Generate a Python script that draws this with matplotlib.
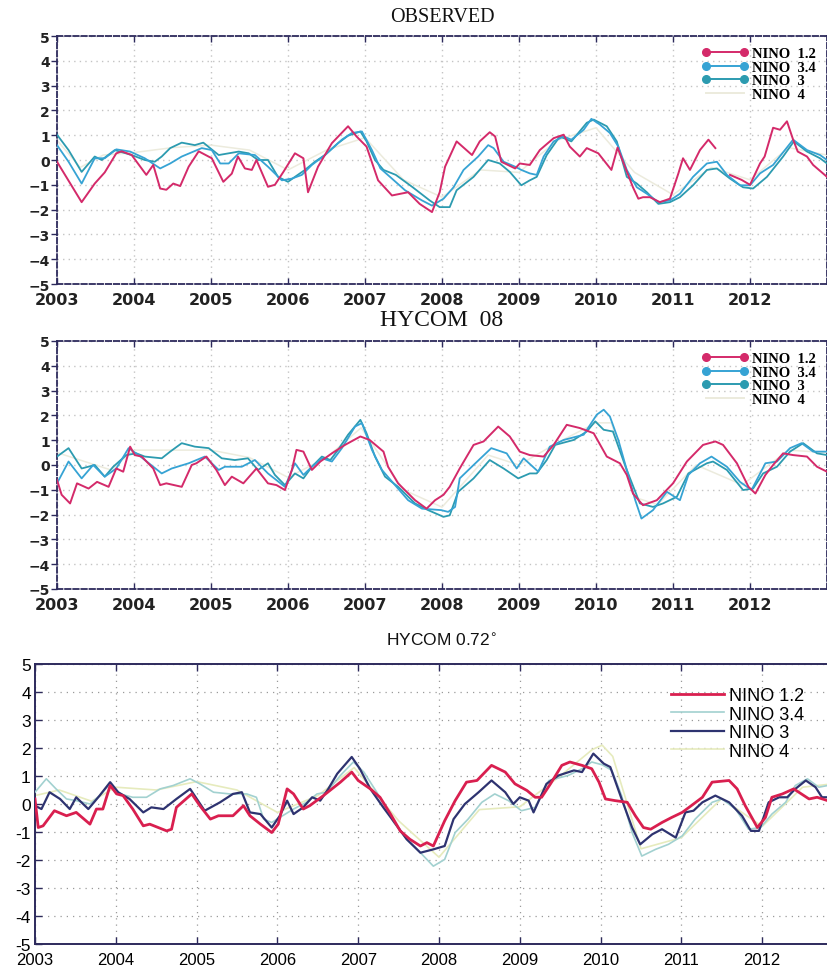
import numpy as np
import matplotlib
matplotlib.use("Agg")
import matplotlib.pyplot as plt
from matplotlib.lines import Line2D

nan = np.nan

# =========================
# DATA  (year, anomaly)
# =========================
years = [2003, 2004, 2005, 2006, 2007, 2008, 2009, 2010, 2011, 2012]
yticks = [-5, -4, -3, -2, -1, 0, 1, 2, 3, 4, 5]
series_names = ["NINO 1.2", "NINO 3.4", "NINO 3", "NINO 4"]

# --- OBSERVED ---
obs_n12 = [(2003.00, -0.07), (2003.32, -1.7), (2003.49, -0.95), (2003.62, -0.5), (2003.77, 0.27),
           (2003.84, 0.35), (2003.97, 0.2), (2004.16, -0.6), (2004.25, -0.2), (2004.34, -1.15),
           (2004.42, -1.2), (2004.51, -0.95), (2004.60, -1.05), (2004.71, -0.27), (2004.84, 0.35),
           (2005.01, 0.07), (2005.16, -0.88), (2005.27, -0.55), (2005.35, 0.14), (2005.44, -0.34),
           (2005.53, -0.4), (2005.59, 0.0), (2005.74, -1.08), (2005.83, -1.0), (2005.94, -0.48),
           (2006.09, 0.27), (2006.20, 0.07), (2006.26, -1.3), (2006.39, -0.27), (2006.57, 0.68),
           (2006.78, 1.36), (2006.89, 0.95), (2007.02, 0.54), (2007.17, -0.82), (2007.35, -1.43),
           (2007.56, -1.3), (2007.71, -1.77), (2007.87, -2.1), (2007.97, -1.3), (2008.04, -0.27),
           (2008.19, 0.75), (2008.39, 0.2), (2008.49, 0.75), (2008.62, 1.12), (2008.69, 0.95),
           (2008.77, -0.07), (2008.95, -0.34), (2009.01, -0.14), (2009.14, -0.2), (2009.27, 0.4),
           (2009.45, 0.88), (2009.58, 1.02), (2009.66, 0.54), (2009.79, 0.14), (2009.88, 0.48),
           (2010.03, 0.27), (2010.20, -0.4), (2010.28, 0.5), (2010.48, -1.1), (2010.55, -1.56),
           (2010.61, -1.5), (2010.70, -1.5), (2010.83, -1.7), (2010.96, -1.56), (2011.07, -0.54),
           (2011.13, 0.07), (2011.22, -0.4), (2011.35, 0.4), (2011.46, 0.82), (2011.55, 0.48),
           (2011.64, nan), (2011.74, -0.6), (2011.89, -0.8), (2012.00, -1.0), (2012.13, -0.14),
           (2012.19, 0.14), (2012.30, 1.3), (2012.39, 1.22), (2012.48, 1.56), (2012.56, 0.82),
           (2012.62, 0.34), (2012.74, 0.14), (2012.82, -0.2), (2013.00, -0.68)]
obs_n34 = [(2003.00, 0.6), (2003.15, -0.07), (2003.32, -0.95), (2003.49, 0.07), (2003.62, 0.07),
           (2003.77, 0.43), (2003.95, 0.34), (2004.14, 0.07), (2004.34, -0.34), (2004.47, -0.14),
           (2004.62, 0.14), (2004.88, 0.48), (2005.01, 0.4), (2005.12, -0.14), (2005.23, -0.14),
           (2005.36, 0.27), (2005.57, 0.2), (2005.74, -0.27), (2005.92, -0.82), (2006.05, -0.75),
           (2006.18, -0.6), (2006.31, -0.2), (2006.48, 0.2), (2006.70, 0.82), (2006.83, 1.09),
           (2006.96, 1.15), (2007.09, 0.4), (2007.20, -0.34), (2007.35, -0.75), (2007.52, -1.22),
           (2007.74, -1.63), (2007.87, -1.84), (2008.02, -1.56), (2008.15, -1.1), (2008.28, -0.4),
           (2008.47, 0.14), (2008.60, 0.6), (2008.67, 0.48), (2008.80, -0.07), (2008.95, -0.27),
           (2009.03, -0.4), (2009.14, -0.54), (2009.23, -0.6), (2009.32, 0.14), (2009.45, 0.75),
           (2009.58, 0.95), (2009.68, 0.82), (2009.84, 1.22), (2009.94, 1.66), (2010.05, 1.43),
           (2010.18, 1.09), (2010.29, 0.54), (2010.40, -0.4), (2010.53, -1.1), (2010.66, -1.36),
           (2010.81, -1.7), (2010.96, -1.63), (2011.09, -1.36), (2011.26, -0.68), (2011.44, -0.14),
           (2011.57, -0.07), (2011.70, -0.6), (2011.87, -1.02), (2012.00, -1.02), (2012.13, -0.54),
           (2012.30, -0.2), (2012.56, 0.82), (2012.74, 0.4), (2012.91, 0.2), (2013.00, 0.0)]
obs_n3 = [(2003.00, 1.02), (2003.15, 0.4), (2003.32, -0.48), (2003.49, 0.14), (2003.58, 0.0),
          (2003.75, 0.4), (2003.97, 0.2), (2004.14, 0.0), (2004.27, -0.07), (2004.36, 0.14),
          (2004.47, 0.48), (2004.62, 0.7), (2004.79, 0.6), (2004.90, 0.7), (2005.10, 0.2),
          (2005.23, 0.27), (2005.36, 0.34), (2005.49, 0.27), (2005.61, 0.0), (2005.74, 0.0),
          (2005.87, -0.68), (2006.00, -0.88), (2006.09, -0.68), (2006.22, -0.4), (2006.35, -0.07),
          (2006.48, 0.2), (2006.65, 0.68), (2006.78, 0.98), (2006.94, 1.15), (2007.02, 0.75),
          (2007.13, 0.0), (2007.24, -0.4), (2007.40, -0.6), (2007.62, -1.1), (2007.84, -1.63),
          (2007.97, -1.9), (2008.10, -1.9), (2008.19, -1.22), (2008.41, -0.68), (2008.60, 0.0),
          (2008.75, -0.14), (2008.88, -0.48), (2009.03, -1.02), (2009.14, -0.82), (2009.23, -0.68),
          (2009.36, 0.2), (2009.53, 0.95), (2009.68, 0.75), (2009.88, 1.5), (2009.97, 1.63),
          (2010.14, 1.36), (2010.27, 0.75), (2010.40, -0.68), (2010.53, -0.95), (2010.66, -1.3),
          (2010.81, -1.77), (2010.96, -1.7), (2011.09, -1.5), (2011.26, -1.02), (2011.44, -0.4),
          (2011.57, -0.34), (2011.74, -0.75), (2011.91, -1.1), (2012.04, -1.15), (2012.22, -0.68),
          (2012.43, 0.14), (2012.57, 0.75), (2012.74, 0.34), (2012.91, 0.07), (2013.00, -0.14)]
obs_n4 = [(2003.0, 0.8), (2003.3, -0.3), (2003.6, 0.2), (2004.0, 0.3), (2004.5, 0.5), (2005.0, 0.6),
          (2005.5, 0.4), (2006.0, -0.4), (2006.5, 0.4), (2007.0, 0.9), (2007.5, -0.8), (2008.0, -1.5),
          (2008.5, -0.4), (2009.0, -0.5), (2009.5, 0.8), (2010.0, 1.3), (2010.5, -0.5), (2011.0, -1.4),
          (2011.5, -0.3), (2012.0, -0.8), (2012.5, 0.5), (2013.0, 0.2)]

# --- HYCOM 08 ---
h08_n12 = [(2003.00, -0.6), (2003.06, -1.2), (2003.17, -1.55), (2003.26, -0.74), (2003.41, -0.95),
           (2003.52, -0.68), (2003.67, -0.88), (2003.77, -0.14), (2003.86, -0.27), (2003.95, 0.74),
           (2004.01, 0.4), (2004.10, 0.34), (2004.25, -0.14), (2004.34, -0.81), (2004.42, -0.74),
           (2004.62, -0.88), (2004.75, 0.0), (2004.81, 0.07), (2004.94, 0.34), (2005.07, -0.2),
           (2005.18, -0.81), (2005.27, -0.47), (2005.42, -0.74), (2005.59, -0.14), (2005.74, -0.74),
           (2005.85, -0.81), (2005.96, -1.01), (2006.05, -0.2), (2006.11, 0.61), (2006.20, 0.54),
           (2006.31, -0.2), (2006.42, 0.14), (2006.57, 0.47), (2006.74, 0.81), (2006.94, 1.15),
           (2007.06, 1.01), (2007.24, 0.54), (2007.30, -0.07), (2007.43, -0.74), (2007.65, -1.42),
           (2007.80, -1.76), (2007.91, -1.42), (2008.02, -1.2), (2008.10, -0.88), (2008.23, -0.14),
           (2008.41, 0.81), (2008.54, 0.95), (2008.73, 1.55), (2008.88, 1.15), (2009.01, 0.54),
           (2009.14, 0.4), (2009.32, 0.34), (2009.45, 0.81), (2009.62, 1.62), (2009.79, 1.49),
           (2009.97, 1.28), (2010.14, 0.34), (2010.31, 0.07), (2010.40, -0.4), (2010.48, -1.15),
           (2010.61, -1.62), (2010.79, -1.42), (2011.00, -0.74), (2011.18, 0.14), (2011.39, 0.81),
           (2011.55, 0.95), (2011.65, 0.81), (2011.83, 0.07), (2011.98, -0.88), (2012.07, -1.15),
           (2012.20, -0.4), (2012.30, 0.0), (2012.43, 0.47), (2012.56, 0.4), (2012.74, 0.34),
           (2012.87, -0.07), (2013.00, -0.27)]
h08_n34 = [(2003.00, -0.74), (2003.15, 0.14), (2003.32, -0.54), (2003.47, 0.0), (2003.62, -0.47),
           (2003.77, -0.14), (2003.93, 0.68), (2004.06, 0.4), (2004.25, -0.07), (2004.36, -0.34),
           (2004.49, -0.14), (2004.71, 0.07), (2004.92, 0.34), (2005.10, -0.2), (2005.18, -0.07),
           (2005.40, -0.07), (2005.57, 0.2), (2005.74, -0.34), (2005.96, -0.88), (2006.09, 0.07),
           (2006.20, -0.4), (2006.31, -0.07), (2006.44, 0.27), (2006.57, 0.14), (2006.70, 0.68),
           (2006.87, 1.55), (2006.96, 1.69), (2007.09, 0.61), (2007.22, -0.2), (2007.39, -0.81),
           (2007.56, -1.42), (2007.74, -1.76), (2007.99, -1.82), (2008.08, -1.89), (2008.17, -1.69),
           (2008.23, -0.54), (2008.41, 0.0), (2008.64, 0.68), (2008.84, 0.47), (2008.97, -0.14),
           (2009.06, 0.27), (2009.25, -0.27), (2009.40, 0.74), (2009.58, 1.01), (2009.84, 1.22),
           (2010.01, 2.03), (2010.10, 2.23), (2010.18, 1.96), (2010.29, 1.01), (2010.40, -0.2),
           (2010.51, -1.42), (2010.59, -2.16), (2010.74, -1.82), (2010.92, -1.08), (2011.09, -1.42),
           (2011.20, -0.4), (2011.35, 0.07), (2011.50, 0.34), (2011.70, -0.07), (2011.87, -0.68),
           (2012.02, -1.01), (2012.20, 0.07), (2012.35, 0.14), (2012.52, 0.68), (2012.67, 0.88),
           (2012.82, 0.54), (2013.00, 0.54)]
h08_n3 = [(2003.00, 0.34), (2003.15, 0.68), (2003.32, -0.14), (2003.49, 0.0), (2003.62, -0.47),
          (2003.73, -0.07), (2003.90, 0.4), (2004.03, 0.47), (2004.14, 0.34), (2004.36, 0.27),
          (2004.47, 0.54), (2004.62, 0.88), (2004.79, 0.74), (2004.97, 0.68), (2005.14, 0.27),
          (2005.31, 0.2), (2005.48, 0.27), (2005.61, -0.2), (2005.74, 0.07), (2005.83, -0.4),
          (2005.96, -0.81), (2006.09, -0.34), (2006.20, -0.54), (2006.31, -0.07), (2006.44, 0.34),
          (2006.55, 0.2), (2006.65, 0.61), (2006.78, 1.22), (2006.94, 1.82), (2007.02, 1.28),
          (2007.13, 0.34), (2007.26, -0.47), (2007.43, -0.88), (2007.65, -1.55), (2007.82, -1.82),
          (2008.02, -2.09), (2008.10, -2.03), (2008.21, -1.08), (2008.41, -0.54), (2008.62, 0.2),
          (2008.80, -0.14), (2008.99, -0.54), (2009.14, -0.34), (2009.23, -0.34), (2009.36, 0.2),
          (2009.47, 0.81), (2009.71, 1.01), (2009.88, 1.35), (2009.99, 1.76), (2010.10, 1.42),
          (2010.22, 1.35), (2010.40, -0.2), (2010.57, -1.55), (2010.74, -1.69), (2010.87, -1.55),
          (2011.05, -1.28), (2011.20, -0.34), (2011.44, 0.07), (2011.52, 0.14), (2011.70, -0.2),
          (2011.91, -1.01), (2012.04, -0.95), (2012.17, -0.34), (2012.35, -0.07), (2012.52, 0.54),
          (2012.69, 0.88), (2012.87, 0.47), (2013.00, 0.4)]
h08_n4 = [(2003.0, 0.5), (2003.3, 0.2), (2003.7, -0.2), (2004.0, 0.6), (2004.5, 0.6), (2005.0, 0.6),
          (2005.5, 0.3), (2006.0, -0.5), (2006.5, 0.3), (2006.95, 1.5), (2007.5, -1.0), (2008.0, -1.7),
          (2008.6, 0.4), (2009.0, 0.0), (2009.5, 0.9), (2010.0, 1.7), (2010.2, 1.7), (2010.5, -1.3),
          (2010.8, -1.6), (2011.3, 0.0), (2011.9, -0.8), (2012.5, 0.6), (2013.0, 0.5)]

# --- HYCOM 0.72 ---
h72_n12 = [(2003.00, 0.18), (2003.04, -0.84), (2003.10, -0.78), (2003.24, -0.24), (2003.39, -0.42),
           (2003.51, -0.3), (2003.68, -0.72), (2003.76, -0.18), (2003.84, -0.18), (2003.93, 0.66),
           (2004.01, 0.36), (2004.09, 0.3), (2004.21, -0.18), (2004.34, -0.78), (2004.42, -0.72),
           (2004.63, -0.96), (2004.69, -0.9), (2004.75, -0.12), (2004.94, 0.36), (2005.04, -0.06),
           (2005.17, -0.54), (2005.27, -0.42), (2005.45, -0.42), (2005.58, -0.06), (2005.66, -0.42),
           (2005.79, -0.72), (2005.93, -1.02), (2006.01, -0.72), (2006.12, 0.54), (2006.20, 0.36),
           (2006.32, -0.18), (2006.40, -0.06), (2006.57, 0.3), (2006.78, 0.78), (2006.92, 1.14),
           (2007.00, 0.84), (2007.15, 0.54), (2007.27, 0.24), (2007.40, -0.36), (2007.52, -0.96),
           (2007.64, -1.26), (2007.77, -1.5), (2007.85, -1.38), (2007.93, -1.5), (2008.07, -0.6),
           (2008.20, 0.12), (2008.34, 0.78), (2008.47, 0.84), (2008.65, 1.38), (2008.82, 1.14),
           (2008.94, 0.72), (2009.09, 0.48), (2009.19, 0.24), (2009.27, 0.24), (2009.38, 0.72),
           (2009.52, 1.38), (2009.62, 1.5), (2009.77, 1.38), (2009.89, 1.26), (2009.98, 0.78),
           (2010.06, 0.18), (2010.18, 0.12), (2010.33, 0.06), (2010.43, -0.42), (2010.53, -0.84),
           (2010.62, -0.9), (2010.76, -0.66), (2010.88, -0.48), (2011.01, -0.3), (2011.15, 0.0),
           (2011.26, 0.24), (2011.38, 0.78), (2011.59, 0.84), (2011.69, 0.54), (2011.79, -0.06),
           (2011.94, -0.84), (2012.04, -0.48), (2012.12, 0.24), (2012.25, 0.36), (2012.39, 0.54),
           (2012.58, 0.18), (2012.68, 0.24), (2012.81, 0.12), (2013.00, 0.1)]
h72_n34 = [(2003.00, 0.42), (2003.14, 0.9), (2003.26, 0.54), (2003.39, 0.18), (2003.51, 0.12),
           (2003.68, 0.0), (2003.80, 0.3), (2003.93, 0.72), (2004.05, 0.36), (2004.21, 0.24),
           (2004.38, 0.24), (2004.55, 0.54), (2004.71, 0.66), (2004.92, 0.9), (2005.04, 0.72),
           (2005.21, 0.42), (2005.41, 0.36), (2005.62, 0.36), (2005.74, 0.24), (2005.83, -0.54),
           (2005.93, -0.66), (2006.03, -0.48), (2006.20, -0.18), (2006.36, 0.06), (2006.49, 0.36),
           (2006.61, 0.42), (2006.78, 1.02), (2006.94, 1.5), (2007.07, 1.14), (2007.23, 0.42),
           (2007.44, -0.66), (2007.60, -1.26), (2007.77, -1.74), (2007.93, -2.22), (2008.07, -1.98),
           (2008.20, -1.02), (2008.36, -0.54), (2008.53, 0.06), (2008.69, 0.36), (2008.86, 0.12),
           (2009.02, -0.24), (2009.19, -0.12), (2009.36, 0.84), (2009.60, 1.02), (2009.77, 1.26),
           (2009.89, 1.5), (2010.02, 1.4), (2010.14, 1.2), (2010.26, 0.3), (2010.39, -1.02),
           (2010.51, -1.86), (2010.68, -1.62), (2010.84, -1.44), (2011.01, -1.14), (2011.17, -0.54),
           (2011.38, 0.06), (2011.50, 0.18), (2011.67, -0.18), (2011.83, -0.9), (2011.98, -0.84),
           (2012.12, -0.36), (2012.29, 0.06), (2012.41, 0.66), (2012.56, 0.9), (2012.70, 0.6),
           (2012.81, 0.66), (2013.00, 0.6)]
h72_n3 = [(2003.00, -0.06), (2003.08, -0.18), (2003.18, 0.42), (2003.31, 0.18), (2003.43, -0.18),
          (2003.51, 0.24), (2003.66, -0.18), (2003.80, 0.3), (2003.93, 0.78), (2004.03, 0.42),
          (2004.17, 0.18), (2004.34, -0.3), (2004.44, -0.12), (2004.59, -0.18), (2004.75, 0.18),
          (2004.92, 0.54), (2005.10, -0.24), (2005.29, 0.06), (2005.45, 0.36), (2005.56, 0.42),
          (2005.66, -0.3), (2005.79, -0.36), (2005.93, -0.84), (2006.03, -0.42), (2006.12, 0.12),
          (2006.20, -0.36), (2006.32, -0.12), (2006.43, 0.24), (2006.53, 0.12), (2006.63, 0.54),
          (2006.74, 1.08), (2006.92, 1.68), (2007.02, 1.26), (2007.15, 0.54), (2007.31, -0.12),
          (2007.48, -0.78), (2007.60, -1.26), (2007.77, -1.74), (2007.93, -1.62), (2008.07, -1.5),
          (2008.18, -0.54), (2008.32, 0.0), (2008.49, 0.42), (2008.65, 0.84), (2008.82, 0.42),
          (2008.92, 0.0), (2009.00, 0.24), (2009.11, 0.12), (2009.17, -0.3), (2009.33, 0.72),
          (2009.48, 1.02), (2009.67, 1.2), (2009.77, 1.14), (2009.91, 1.8), (2010.04, 1.44),
          (2010.12, 1.32), (2010.26, 0.18), (2010.39, -0.84), (2010.49, -1.44), (2010.64, -1.08),
          (2010.76, -0.9), (2010.93, -1.2), (2011.05, -0.3), (2011.15, -0.24), (2011.26, 0.06),
          (2011.42, 0.3), (2011.59, 0.06), (2011.75, -0.42), (2011.86, -0.96), (2011.96, -0.96),
          (2012.08, 0.06), (2012.21, 0.24), (2012.31, 0.24), (2012.41, 0.54), (2012.54, 0.84),
          (2012.66, 0.6), (2012.74, 0.24), (2012.81, 0.24), (2013.00, 0.2)]
h72_n4 = [(2003.0, 0.3), (2003.3, 0.5), (2003.7, 0.1), (2004.0, 0.6), (2004.5, 0.5), (2005.0, 0.8),
          (2005.5, 0.5), (2006.0, -0.3), (2006.5, 0.3), (2006.95, 1.3), (2007.5, -0.6), (2008.0, -1.9),
          (2008.5, -0.2), (2009.0, -0.1), (2009.5, 1.0), (2009.9, 1.95), (2010.02, 2.1), (2010.15, 1.7),
          (2010.5, -1.6), (2011.0, -1.2), (2011.5, 0.2), (2012.0, -0.8), (2012.5, 0.6), (2012.81, 0.7),
          (2013.0, 0.6)]

# =========================
# CORES
# =========================
grads_cols = ["#d42a6a", "#36a3d4", "#2c9bb0", "#ecebdd"]
matlab_cols = ["#d91f4f", "#a2d1d0", "#2e3370", "#e6ebbd"]
frame_col = "#2d2a5c"

W, H = 827, 970
fig = plt.figure(figsize=(W / 100, H / 100), dpi=100)


def fx(px):
    return px / W


def fy(py):
    return 1 - py / H


def curva(ax, pares, cor, lw, z):
    t = [p[0] for p in pares]
    v = [p[1] for p in pares]
    ax.plot(t, v, color=cor, lw=lw, zorder=z, solid_joinstyle="round")


# =========================
# PAINEIS ESTILO GrADS
# =========================
def painel_grads(top_px, bot_px, dados, titulo, title_y, title_size):
    ax = fig.add_axes([fx(57), fy(bot_px), fx(770), (bot_px - top_px) / H])
    for d, c, lw, z in zip(dados, grads_cols, [1.4, 1.3, 1.3, 1.1], [5, 4, 3, 2]):
        curva(ax, d, c, lw, z)
    ax.set_xlim(2003, 2013)
    ax.set_ylim(-5, 5)
    ax.set_xticks(years)
    ax.set_yticks(yticks)
    ax.set_xticklabels([str(y) for y in years], fontsize=11.5, fontweight="bold",
                       family="DejaVu Sans", color="#222222")
    ax.set_yticklabels([str(y).replace("-", "\u2212") for y in yticks], fontsize=10,
                       fontweight="bold", family="DejaVu Sans", color="#222222")
    ax.tick_params(axis="x", direction="in", length=4, width=1, color=frame_col, pad=6, top=True)
    ax.tick_params(axis="y", direction="out", length=4, width=1, color=frame_col, pad=1)
    ax.grid(True, color="#c4c4c4", linestyle=(0, (1, 3)), lw=1.0)
    for s in ax.spines.values():
        s.set_linestyle((0, (3, 1.5)))
        s.set_color(frame_col)
        s.set_linewidth(1.3)
    handles = []
    for c, lab in zip(grads_cols, series_names):
        mk = "o" if lab != "NINO 4" else None
        handles.append(Line2D([], [], color=c, lw=1.4, marker=mk, markersize=5.5))
    labels = ["NINO  1.2", "NINO  3.4", "NINO  3", "NINO  4"]
    ax.legend(handles, labels, loc="upper right", bbox_to_anchor=(1.0, 1.0), frameon=False,
              numpoints=2, handlelength=3.2, handletextpad=0.25, labelspacing=0.02,
              borderaxespad=0.35, prop={"family": "Liberation Serif", "weight": "bold", "size": 10.5})
    fig.text(fx(442), fy(title_y), titulo, ha="center", va="center",
             family="Liberation Serif", fontsize=title_size, color="#111111")
    return ax


painel_grads(37, 285, [obs_n12, obs_n34, obs_n3, obs_n4], "OBSERVED", 17, 14.5)
painel_grads(342, 590, [h08_n12, h08_n34, h08_n3, h08_n4], "HYCOM  08", 321, 17)

# =========================
# PAINEL ESTILO MATLAB
# =========================
ax3 = fig.add_axes([fx(35), fy(945), fx(808), 280 / H])
dados3 = [h72_n12, h72_n34, h72_n3, h72_n4]
for d, c, lw, z in zip(dados3, matlab_cols, [2.0, 1.2, 1.6, 1.2], [5, 3, 4, 2]):
    curva(ax3, d, c, lw, z)
ax3.set_xlim(2003, 2013)
ax3.set_ylim(-5, 5)
ax3.set_xticks(years)
ax3.set_yticks(yticks)
ax3.set_xticklabels([str(y) for y in years], fontsize=12, family="Liberation Sans")
ax3.set_yticklabels([str(y) for y in yticks], fontsize=12.5, family="Liberation Sans")
ax3.tick_params(direction="in", length=5, width=1, color=frame_col, top=True, right=True, pad=3)
ax3.tick_params(axis="x", pad=6)
ax3.grid(True, color="#9a9a9a", linestyle=(0, (1, 4)), lw=0.9)
for s in ax3.spines.values():
    s.set_color(frame_col)
    s.set_linewidth(1.4)
h3 = [Line2D([], [], color=c, lw=lw) for c, lw in zip(matlab_cols, [2.0, 1.2, 1.6, 1.2])]
ax3.legend(h3, series_names, loc="upper right", bbox_to_anchor=(0.972, 0.975), frameon=False,
           handlelength=2.9, handletextpad=0.3, labelspacing=0.08,
           prop={"family": "Liberation Sans", "size": 13})
fig.text(fx(441), fy(640), "HYCOM 0.72$^{\\circ}$", ha="center", va="center",
         family="Liberation Sans", fontsize=12.5, color="#111111")

fig.savefig("out.png", dpi=100)
